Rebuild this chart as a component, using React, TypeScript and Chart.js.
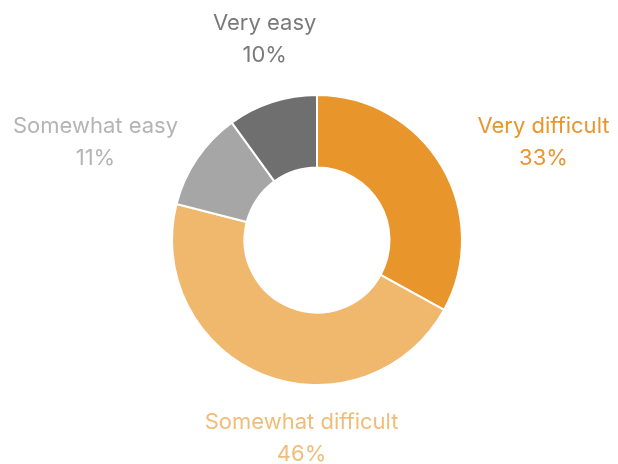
import React, { useEffect, useRef } from "react";
import { Chart, registerables } from "chart.js";

Chart.register(...registerables);

const categories = ["Very difficult", "Somewhat difficult", "Somewhat easy", "Very easy"];
const shares = [33, 46, 11, 10];
const sliceColors = ["#E8952B", "#F0B86D", "#A6A6A6", "#6F6F6F"];
const labelColors = ["#E8962C", "#F0BC78", "#B4B4B4", "#7A7A7A"];
// per-label nudges (px) applied after placing the label on the slice's mid-angle
const labelNudges: [number, number][] = [
  [50, 6],
  [60, 7],
  [-52, 17],
  [11, -7],
];

const FONT = "Inter, 'Open Sans', sans-serif";

const outsideLabels = {
  id: "outsideLabels",
  afterDraw(chart: any) {
    const ctx = chart.ctx;
    const meta = chart.getDatasetMeta(0);
    ctx.save();
    ctx.textAlign = "center";
    ctx.textBaseline = "middle";
    ctx.font = `400 22px ${FONT}`;
    meta.data.forEach((arc: any, i: number) => {
      const p = arc.getProps(["x", "y", "startAngle", "endAngle", "outerRadius"], true);
      const mid = (p.startAngle + p.endAngle) / 2;
      const r = p.outerRadius + 60;
      const cx = p.x + Math.cos(mid) * r + labelNudges[i][0];
      const cy = p.y + Math.sin(mid) * r + labelNudges[i][1];
      ctx.fillStyle = labelColors[i];
      ctx.fillText(categories[i], cx, cy - 15);
      ctx.fillText(`${shares[i]}%`, cx, cy + 17);
    });
    ctx.restore();
  },
};

export default function App() {
  const ref = useRef<HTMLCanvasElement | null>(null);
  useEffect(() => {
    document.body.style.margin = "0";
    const chart = new Chart(ref.current!, {
      type: "doughnut",
      data: {
        labels: categories,
        datasets: [
          {
            data: shares,
            backgroundColor: sliceColors,
            borderColor: "#ffffff",
            borderWidth: 2,
          },
        ],
      },
      options: {
        responsive: false,
        animation: false,
        cutout: "50%",
        layout: { padding: { left: 171, right: 155, top: 94, bottom: 78 } },
        plugins: {
          legend: { display: false },
          tooltip: { enabled: false },
        },
      },
      plugins: [outsideLabels],
    });
    return () => chart.destroy();
  }, []);
  return (
    <div style={{ position: "fixed", left: 0, top: 0, width: 618, height: 464, background: "#fff" }}>
      <canvas ref={ref} width={618} height={464} style={{ width: 618, height: 464 }} />
    </div>
  );
}
